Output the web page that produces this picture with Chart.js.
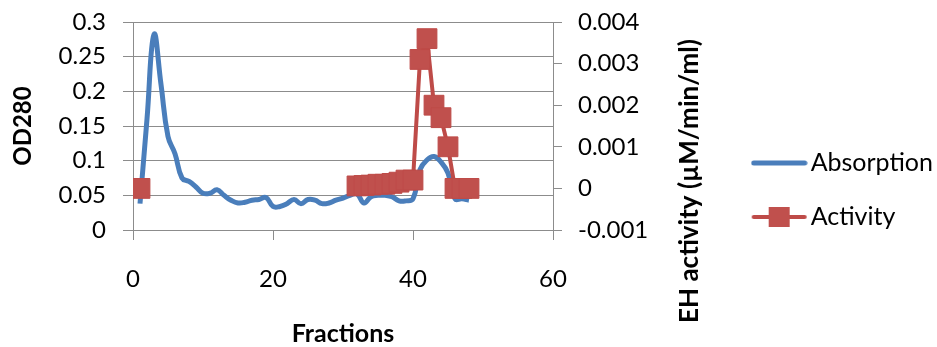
<!DOCTYPE html>
<html>
<head>
<meta charset="utf-8">
<script src="https://cdn.jsdelivr.net/npm/chart.js@4/dist/chart.umd.min.js"></script>
<style>
    body { margin: 0; background: #fff; }
    #wrap { width: 937px; height: 347px; }
</style>
</head>
<body>
<div id="wrap"><canvas id="graphe"></canvas></div>
<script>
// Valeurs
const fractions = [1, 2, 3, 4, 5, 6, 7, 8, 9, 10, 11, 12, 13, 14, 15, 16, 17, 18, 19, 20, 21, 22, 23, 24,
    25, 26, 27, 28, 29, 30, 31, 32, 33, 34, 35, 36, 37, 38, 39, 40, 41, 42, 43, 44, 45, 46, 47, 48];
const absorption = [0.038, 0.16, 0.282, 0.21, 0.135, 0.11, 0.075, 0.07, 0.062, 0.053, 0.053, 0.058,
    0.05, 0.043, 0.039, 0.04, 0.043, 0.044, 0.047, 0.034, 0.034, 0.038, 0.044, 0.038,
    0.044, 0.043, 0.038, 0.039, 0.043, 0.046, 0.05, 0.052, 0.039, 0.048, 0.05, 0.05,
    0.048, 0.042, 0.042, 0.045, 0.087, 0.101, 0.106, 0.098, 0.082, 0.045, 0.045, 0.043];
const activity = [0, null, null, null, null, null, null, null, null, null, null, null,
    null, null, null, null, null, null, null, null, null, null, null, null,
    null, null, null, null, null, null, null, 0.00006, 0.00007, 0.00008, 0.0001, 0.0001,
    0.00012, 0.00015, 0.0002, 0.0002, 0.0031, 0.0036, 0.002, 0.0017, 0.001, 0, 0, 0];
const xTicks = [0, 20, 40, 60];
const odTicks = [0, 0.05, 0.1, 0.15, 0.2, 0.25, 0.3];
const ehTicks = [-0.001, 0, 0.001, 0.002, 0.003, 0.004];

const FONT = 'Lato';
const GRID = '#8c8c8c';
Chart.defaults.font.family = FONT;
Chart.defaults.color = '#000';

// petites icônes de légende (ligne + carré)
function legendIcon(color, width, square) {
    const c = document.createElement('canvas');
    c.width = 57;
    c.height = 22;
    const g = c.getContext('2d');
    g.strokeStyle = color;
    g.lineWidth = width;
    g.lineCap = 'round';
    g.beginPath();
    g.moveTo(3, 11);
    g.lineTo(54, 11);
    g.stroke();
    if (square) {
        g.fillStyle = '#c0504d';
        g.fillRect(18, 1, 21, 20);
    }
    return c;
}
const icons = [legendIcon('#4a7ebb', 5, false), legendIcon('#be4b48', 4, true)];

// largeur de la légende, pour garder la zone du graphe à sa place
const m = document.createElement('canvas').getContext('2d');
m.font = '25px ' + FONT;
const textW = Math.max(m.measureText('Absorption').width, m.measureText('Activity').width);
const legendW = 10 + 29 + 38 + 12.5 + textW;
const rightAxisW = 943 - 553 - legendW;

// titre de l'axe de droite, écrit de bas en haut comme dans Excel
const ehTitle = {
    id: 'ehTitle',
    afterDraw(chart) {
        const ctx = chart.ctx;
        ctx.save();
        ctx.translate(chart.scales.y1.left + 137, 181);
        ctx.rotate(-Math.PI / 2);
        ctx.font = 'bold 26px ' + FONT;
        ctx.fillStyle = '#000';
        ctx.textAlign = 'center';
        ctx.textBaseline = 'middle';
        ctx.fillText('EH activity (µM/min/ml)', 0, 0);
        ctx.restore();
    }
};

const fmt = v => String(+v.toFixed(4));
// pas de marge en haut/bas pour les étiquettes des axes verticaux
const noPad = scale => { scale.paddingTop = 0; scale.paddingBottom = 0; };

new Chart(document.getElementById('graphe'), {
    type: 'line',
    data: {
        datasets: [{
            label: 'Absorption',
            data: fractions.map((f, i) => ({x: f, y: absorption[i]})),
            yAxisID: 'y',
            borderColor: '#4a7ebb',
            borderWidth: 5,
            tension: 0.45,
            pointRadius: 0,
            order: 1
        }, {
            label: 'Activity',
            data: fractions.map((f, i) => ({x: f, y: activity[i]})),
            yAxisID: 'y1',
            borderColor: '#be4b48',
            borderWidth: 4,
            tension: 0,
            spanGaps: false,
            pointStyle: 'rect',
            pointRadius: 14,
            pointBackgroundColor: '#c0504d',
            pointBorderColor: '#be4b48',
            pointBorderWidth: 1,
            order: 0
        }]
    },
    options: {
        responsive: true,
        maintainAspectRatio: false,
        animation: false,
        events: [],
        layout: { padding: { top: 22, left: 0, right: -6, bottom: 0 } },
        scales: {
            x: {
                type: 'linear',
                min: xTicks[0],
                max: xTicks[xTicks.length - 1],
                afterFit(scale) { scale.height = 117; },
                ticks: { stepSize: 20, padding: 25, font: { size: 24 } },
                grid: { drawOnChartArea: false, tickLength: 10, color: GRID },
                border: { color: GRID },
                title: { display: true, text: 'Fractions', font: { size: 25, weight: 'bold', lineHeight: 1 }, padding: { top: 0, bottom: 0.5 } }
            },
            y: {
                position: 'left',
                min: odTicks[0],
                max: odTicks[odTicks.length - 1],
                afterFit(scale) { scale.width = 133; noPad(scale); },
                ticks: { stepSize: 0.05, padding: 17, font: { size: 24 }, callback: fmt },
                grid: { tickLength: 10, color: GRID },
                border: { color: GRID },
                title: { display: true, text: 'OD280', font: { size: 24, weight: 'bold', lineHeight: 1 }, padding: { top: 11, bottom: 0 } }
            },
            y1: {
                position: 'right',
                min: ehTicks[0],
                max: ehTicks[ehTicks.length - 1],
                afterFit(scale) { scale.width = rightAxisW; noPad(scale); },
                ticks: { stepSize: 0.001, padding: 16, font: { size: 24 }, callback: fmt },
                grid: { drawOnChartArea: false, tickLength: 9, color: GRID },
                border: { color: GRID }
            }
        },
        plugins: {
            tooltip: { enabled: false },
            legend: {
                position: 'right',
                align: 'start',
                maxWidth: 400,
                title: { display: true, text: '', font: { size: 10, lineHeight: 1 }, padding: { top: 89.5, bottom: 0 } },
                labels: {
                    usePointStyle: true,
                    pointStyleWidth: 38,
                    padding: 29,
                    font: { size: 25 },
                    color: '#000',
                    sort: (a, b) => a.datasetIndex - b.datasetIndex,
                    generateLabels(chart) {
                        const items = Chart.defaults.plugins.legend.labels.generateLabels(chart);
                        items.forEach(it => { it.pointStyle = icons[it.datasetIndex]; });
                        return items;
                    }
                }
            }
        }
    },
    plugins: [ehTitle]
});
</script>
</body>
</html>
